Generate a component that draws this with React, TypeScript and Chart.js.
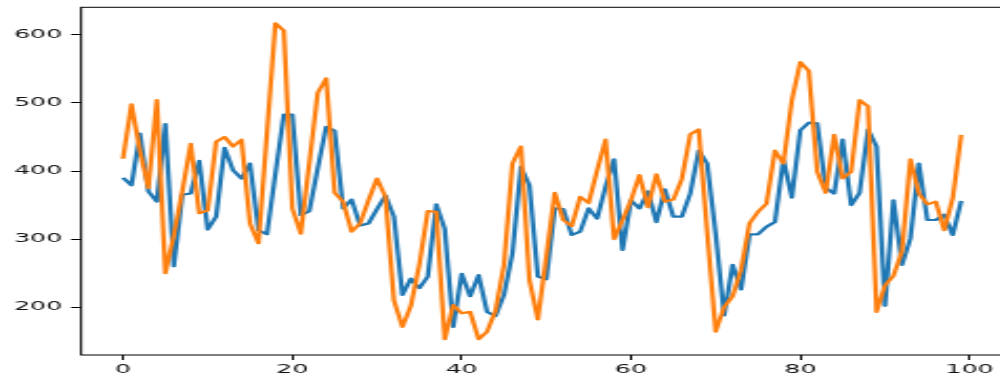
import { useEffect, useRef } from 'react';
import { Chart, registerables } from 'chart.js';

Chart.register(...registerables);

const blueValues = [
  390, 379, 455, 370, 355, 469, 260, 365, 367, 415,
  314, 333, 434, 401, 389, 411, 313, 307, 396, 483,
  483, 335, 341, 404, 465, 459, 345, 358, 320, 323,
  344, 364, 333, 218, 242, 228, 245, 351, 315, 171,
  249, 216, 247, 193, 187, 218, 279, 406, 379, 245,
  241, 345, 344, 306, 311, 345, 330, 377, 417, 284,
  357, 345, 370, 325, 373, 333, 333, 367, 430, 411,
  308, 188, 262, 226, 307, 307, 318, 325, 417, 361,
  460, 471, 470, 375, 367, 446, 350, 368, 461, 436,
  202, 357, 262, 301, 411, 328, 328, 336, 306, 356,
];

const orangeValues = [
  418, 498, 430, 375, 504, 250, 305, 370, 440, 338,
  342, 443, 450, 436, 446, 323, 294, 455, 617, 606,
  345, 308, 411, 515, 536, 368, 355, 311, 323, 357,
  389, 362, 210, 171, 202, 262, 341, 340, 153, 203,
  191, 193, 153, 164, 195, 262, 411, 436, 240, 182,
  275, 368, 328, 319, 362, 353, 401, 446, 300, 328,
  357, 394, 347, 395, 355, 358, 388, 454, 461, 310,
  164, 200, 216, 255, 323, 340, 352, 430, 411, 504,
  560, 547, 399, 368, 453, 389, 399, 504, 495, 193,
  232, 246, 282, 417, 367, 351, 355, 313, 360, 453,
];

const xLabels = blueValues.map((_, i) => i);
const xTickValues = [0, 20, 40, 60, 80, 100];
const yTickValues = [200, 300, 400, 500, 600];

const INTERNAL_W = 481;
const CSS_W = 1010;
const H = 383;

const framePlugin = {
  id: 'frame',
  afterDraw(chart: any) {
    const { ctx, chartArea } = chart;
    ctx.save();
    ctx.strokeStyle = '#000';
    ctx.lineWidth = 1;
    ctx.strokeRect(chartArea.left, chartArea.top, chartArea.right - chartArea.left, chartArea.bottom - chartArea.top);
    ctx.restore();
  },
};

export default function App() {
  const ref = useRef<HTMLCanvasElement>(null);
  useEffect(() => {
    document.body.style.margin = '0';
    const canvas = ref.current!;
    const font = { family: 'DejaVu Sans', size: 12 };
    const chart = new Chart(canvas, {
      type: 'line',
      data: {
        labels: xLabels,
        datasets: [
          {
            label: 'blue',
            data: blueValues,
            borderColor: '#1f77b4',
            backgroundColor: '#1f77b4',
            borderWidth: 2.2,
            pointRadius: 0,
            tension: 0,
            borderJoinStyle: 'round',
            order: 1,
          },
          {
            label: 'orange',
            data: orangeValues,
            borderColor: '#ff7f0e',
            backgroundColor: '#ff7f0e',
            borderWidth: 2.2,
            pointRadius: 0,
            tension: 0,
            borderJoinStyle: 'round',
            order: 0,
          },
        ],
      },
      options: {
        responsive: false,
        animation: false,
        devicePixelRatio: 1,
        layout: { padding: { left: 0, right: 3.3, top: 7.3, bottom: 0 } },
        plugins: { legend: { display: false }, tooltip: { enabled: false } },
        scales: {
          x: {
            type: 'linear',
            min: -4.95,
            max: 103.95,
            afterBuildTicks: (s: any) => {
              s.ticks = xTickValues.map((v) => ({ value: v }));
            },
            afterFit: (s: any) => {
              s.height = 28;
              s.paddingLeft = 0;
              s.paddingRight = 0;
            },
            grid: { drawOnChartArea: false, drawTicks: true, tickLength: 5, color: '#000', lineWidth: 1 },
            border: { display: false },
            ticks: { font, color: '#111', padding: 3, maxRotation: 0, autoSkip: false },
          },
          y: {
            type: 'linear',
            min: 129.7,
            max: 640.5,
            afterBuildTicks: (s: any) => {
              s.ticks = yTickValues.map((v) => ({ value: v }));
            },
            afterFit: (s: any) => {
              s.width = 38.6;
              s.paddingTop = 0;
              s.paddingBottom = 0;
            },
            grid: { drawOnChartArea: false, drawTicks: true, tickLength: 4.8, color: '#000', lineWidth: 1 },
            border: { display: false },
            ticks: { font, color: '#111', padding: 4.2, autoSkip: false },
          },
        },
      },
      plugins: [framePlugin],
    } as any);
    return () => chart.destroy();
  }, []);
  return (
    <div style={{ width: 1000, height: H, overflow: 'hidden', position: 'relative' }}>
      <canvas
        ref={ref}
        width={INTERNAL_W}
        height={H}
        style={{ width: CSS_W + 'px', height: H + 'px', display: 'block' }}
      />
    </div>
  );
}
